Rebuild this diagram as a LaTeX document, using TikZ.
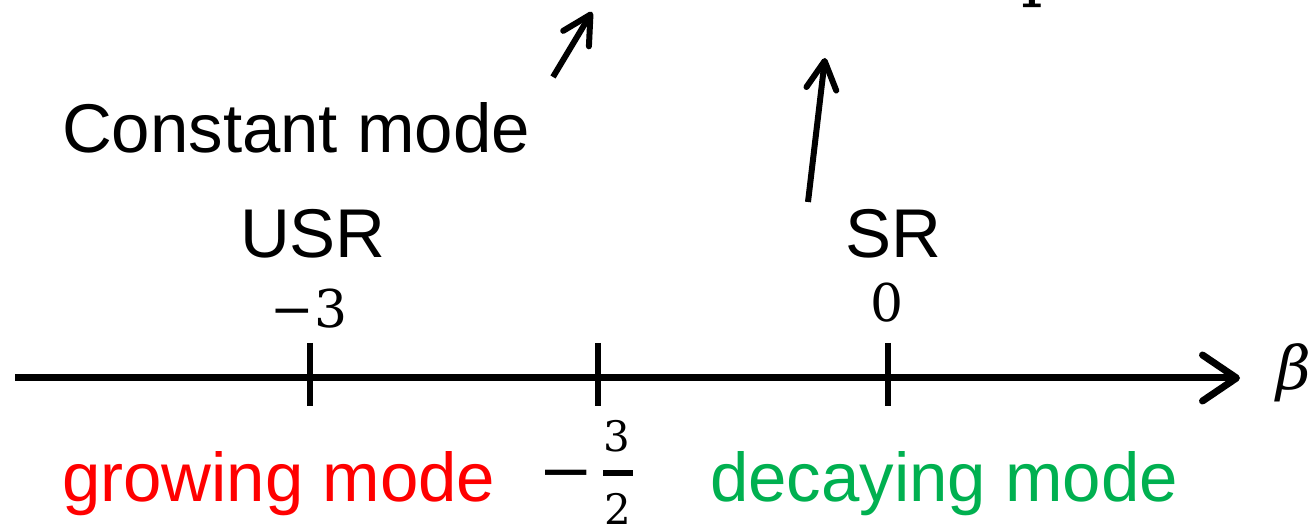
\documentclass[tikz,border=0pt]{standalone}
\usepackage{fontspec}
\setmainfont{Liberation Sans}
\newfontfamily\mathserif{DejaVu Serif}
\usetikzlibrary{arrows.meta}
\definecolor{growred}{RGB}{255,0,0}
\definecolor{decaygreen}{RGB}{0,176,80}
\begin{document}
\begin{tikzpicture}[x=0.5pt,y=-0.5pt,
  lab/.style={font=\fontsize{34.5}{40}\selectfont, inner sep=0pt, outer sep=0pt},
  mth/.style={font=\mathserif\fontsize{26}{30}\selectfont, inner sep=0pt, outer sep=0pt},
  axisline/.style={line width=3.5pt, -{Straight Barb[length=17pt,width=23pt,round]}},
  tickline/.style={line width=3pt},
  barline/.style={line width=3pt},
  pointer/.style={line width=3pt, -{Straight Barb[length=14pt,width=15pt,round]}}]
\useasboundingbox (0,0) rectangle (1314,528);
% cut-off formula fragments at the top edge
\begin{scope}
\clip (0,0) rectangle (1314,528);
\node[mth, font=\mathserif\itshape\fontsize{34}{40}\selectfont, anchor=base west] (topy) at (852,-18) {y};
\node[mth, font=\mathserif\fontsize{34}{40}\selectfont, anchor=base west] (topp) at (1021,-6) {p};
\end{scope}
% axis
\coordinate (ax0) at (15,378);
\coordinate (ax1) at (1240,378);
\draw[axisline] (ax0) -- (ax1);
\node[mth, font=\mathserif\itshape\fontsize{30}{36}\selectfont, anchor=base west] (beta) at (1276,390) {β};
% ticks
\coordinate (t1a) at (310,343); \coordinate (t1b) at (310,406);
\coordinate (t2a) at (598,343); \coordinate (t2b) at (598,406);
\coordinate (t3a) at (888,343); \coordinate (t3b) at (888,406);
\draw[tickline] (t1a) -- (t1b);
\draw[tickline] (t2a) -- (t2b);
\draw[tickline] (t3a) -- (t3b);
% labels above
\node[lab, anchor=base] (usr) at (313,258) {USR};
\node[lab, anchor=base] (sr) at (893,258) {SR};
\node[mth, anchor=base] (m3) at (309,328) {−3};
\node[mth, anchor=base] (zero) at (887,322) {0};
\node[lab, anchor=base west] (const) at (62,153) {Constant mode};
% fraction -3/2
\node[mth, font=\mathserif\fontsize{33}{36}\selectfont, anchor=base] (hminus) at (566,494) {−};
\node[mth, font=\mathserif\fontsize{21}{24}\selectfont, anchor=base] (hnum) at (617,452) {3};
\node[mth, font=\mathserif\fontsize{21}{24}\selectfont, anchor=base] (hden) at (618,525) {2};
\coordinate (bar0) at (603,473); \coordinate (bar1) at (633,473);
\draw[barline] (bar0) -- (bar1);
% mode labels
\node[lab, anchor=base west, text=growred] (grow) at (62,502) {growing mode};
\node[lab, anchor=base west, text=decaygreen] (decay) at (710,502) {decaying mode};
% pointers
\coordinate (p1s) at (553,77); \coordinate (p1e) at (592,12);
\coordinate (p2s) at (808,202); \coordinate (p2e) at (825,58);
\draw[pointer] (p1s) -- (p1e);
\draw[pointer] (p2s) -- (p2e);
\end{tikzpicture}
\end{document}
